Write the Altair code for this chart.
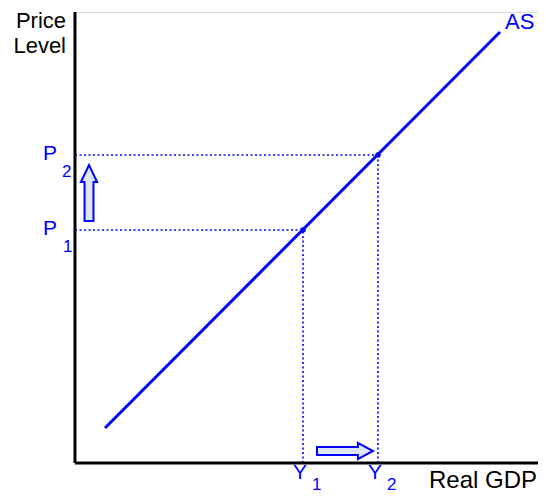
import altair as alt
import pandas as pd

BLUE = "#0000ff"
FONT = "Liberation Sans"

# AS curve endpoints (data units)
as_x = [30, 425]
as_y = [35, 431]

# equilibrium points
eq_x = [228, 303]
eq_y = [233, 308]

# arrows (centre positions)
arrow_x = [14, 270]
arrow_y = [270, 12]
arrow_shape = [
    "M -0.16 1 L -0.16 -0.39 L -0.29 -0.39 L 0 -1 L 0.29 -0.39 L 0.16 -0.39 L 0.16 1 Z",
    "M -1 -0.14 L 0.46 -0.14 L 0.46 -0.29 L 1 0 L 0.46 0.29 L 0.46 0.14 L -1 0.14 Z",
]

# label texts
main_txt = ["P", "P", "Y", "Y"]
main_x = [-32, -32, 218, 293]
main_y = [303, 228, -16, -16]
sub_txt = ["2", "1", "1", "2"]
sub_x = [-13, -12, 237, 312]
sub_y = [286, 211, -27, -27]

X_MAX, Y_MAX = 463, 451
xs = alt.Scale(domain=[0, X_MAX], nice=False, zero=False)
ys = alt.Scale(domain=[0, Y_MAX], nice=False, zero=False)

def X(f="x"):
    return alt.X(f"{f}:Q", scale=xs, axis=None)

def Y(f="y"):
    return alt.Y(f"{f}:Q", scale=ys, axis=None)

eq = pd.DataFrame({"x": eq_x, "y": eq_y, "zero": [0, 0]})

hdots = alt.Chart(eq).mark_rule(color=BLUE, strokeWidth=1.6, strokeDash=[2, 2.5]).encode(
    x=alt.X("zero:Q", scale=xs, axis=None), x2="x:Q", y=Y()
)
vdots = alt.Chart(eq).mark_rule(color=BLUE, strokeWidth=1.6, strokeDash=[2, 2.5]).encode(
    y=alt.Y("zero:Q", scale=ys, axis=None), y2="y:Q", x=X()
)

as_line = alt.Chart(pd.DataFrame({"x": as_x, "y": as_y})).mark_line(
    color=BLUE, strokeWidth=3
).encode(x=X(), y=Y())

eq_pts = alt.Chart(eq).mark_point(filled=True, color=BLUE, size=30, opacity=1).encode(x=X(), y=Y())

axes_df = pd.DataFrame({"x": [0, 0], "x2": [0, X_MAX], "y": [0, 0], "y2": [Y_MAX, 0]})
axes = alt.Chart(axes_df).mark_rule(color="black", strokeWidth=3).encode(
    x=X(), x2="x2:Q", y=Y(), y2="y2:Q"
)

arrows = alt.Chart(pd.DataFrame({"x": arrow_x, "y": arrow_y, "s": arrow_shape})).mark_point(
    filled=True, fill="#dce6f4", stroke=BLUE, strokeWidth=2, size=3136, opacity=1, fillOpacity=1
).encode(x=X(), y=Y(), shape=alt.Shape("s:N", scale=None))

main_lbl = alt.Chart(pd.DataFrame({"x": main_x, "y": main_y, "t": main_txt})).mark_text(
    align="left", baseline="alphabetic", font=FONT, fontSize=21, color=BLUE
).encode(x=X(), y=Y(), text="t:N")

sub_lbl = alt.Chart(pd.DataFrame({"x": sub_x, "y": sub_y, "t": sub_txt})).mark_text(
    align="left", baseline="alphabetic", font=FONT, fontSize=17, color=BLUE
).encode(x=X(), y=Y(), text="t:N")

as_lbl = alt.Chart(pd.DataFrame({"x": [430], "y": [434], "t": ["AS"]})).mark_text(
    align="left", baseline="alphabetic", font=FONT, fontSize=22, color=BLUE
).encode(x=X(), y=Y(), text="t:N")

ytitle = alt.Chart(pd.DataFrame({"x": [-9, -9], "y": [435, 410], "t": ["Price", "Level"]})).mark_text(
    align="right", baseline="alphabetic", font=FONT, fontSize=22, color="black"
).encode(x=X(), y=Y(), text="t:N")

xtitle = alt.Chart(pd.DataFrame({"x": [462], "y": [-25], "t": ["Real GDP"]})).mark_text(
    align="right", baseline="alphabetic", font=FONT, fontSize=24, color="black"
).encode(x=X(), y=Y(), text="t:N")

chart = alt.layer(
    hdots, vdots, as_line, eq_pts, axes, arrows, main_lbl, sub_lbl, as_lbl, ytitle, xtitle
).properties(
    width=X_MAX,
    height=Y_MAX,
    autosize=alt.AutoSizeParams(type="none"),
    padding={"left": 67, "top": 4, "right": 0, "bottom": 31},
).configure_view(stroke=None).configure(background="white")

chart.save("out.html", embed_options={"renderer": "svg", "actions": False})
